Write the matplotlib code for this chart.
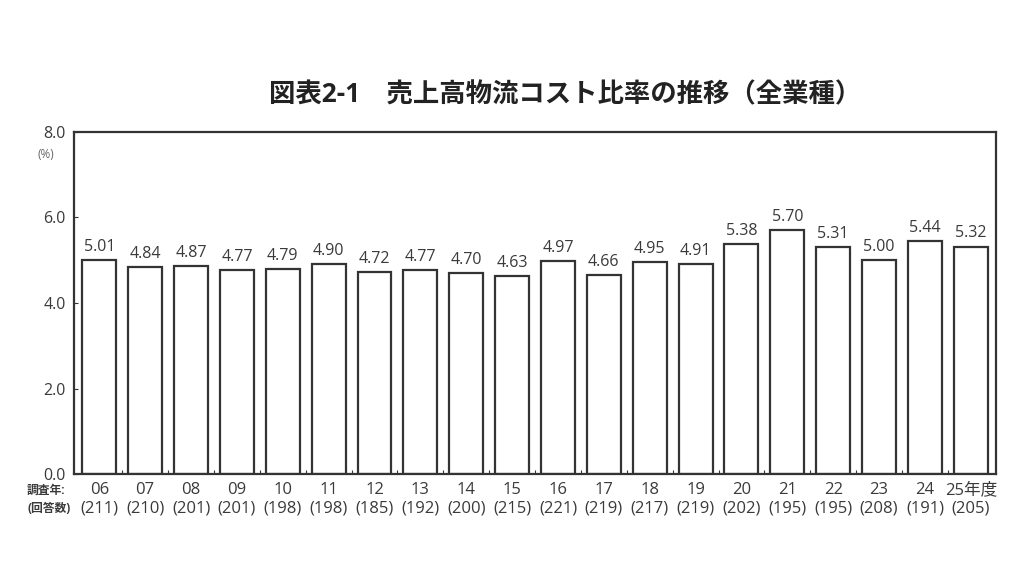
import matplotlib
matplotlib.use("Agg")
from matplotlib import pyplot as plt
from matplotlib.ticker import MultipleLocator

plt.rcParams['font.family'] = ['Open Sans', 'Noto Sans CJK JP', 'DejaVu Sans']

years = ['06', '07', '08', '09', '10', '11', '12', '13', '14', '15',
         '16', '17', '18', '19', '20', '21', '22', '23', '24', '25年度']
answers = [211, 210, 201, 201, 198, 198, 185, 192, 200, 215,
           221, 219, 217, 219, 202, 195, 195, 208, 191, 205]
ratios = [5.01, 4.84, 4.87, 4.77, 4.79, 4.90, 4.72, 4.77, 4.70, 4.63,
          4.97, 4.66, 4.95, 4.91, 5.38, 5.70, 5.31, 5.00, 5.44, 5.32]

text_col = '#3a3a3a'

fig = plt.figure(figsize=(10.24, 5.76), dpi=100)
ax = fig.add_axes([0.0723, 0.177, 0.9004, 0.594])

x = list(range(len(ratios)))
ax.bar(x, ratios, width=0.74, color='white', edgecolor='#333333', linewidth=1.6)

for xi, v in zip(x, ratios):
    ax.text(xi, v + 0.12, f'{v:.2f}', ha='center', va='bottom',
            fontsize=11.5, color=text_col)

ax.set_xlim(-0.55, len(ratios) - 0.45)
ax.set_ylim(0, 8)
ax.yaxis.set_major_locator(MultipleLocator(2))
ax.set_yticklabels([f'{t:.1f}' for t in ax.get_yticks()])
ax.tick_params(axis='y', direction='in', length=3, labelsize=11.5,
               labelcolor=text_col, color='#333333', pad=6)
ax.set_xticks([i + 0.5 for i in x[:-1]])
ax.set_xticklabels([])
ax.tick_params(axis='x', direction='in', length=3, color='#333333')
for s in ax.spines.values():
    s.set_color('#333333')
    s.set_linewidth(1.6)

# unit label under the top tick
ax.text(-0.03, 0.935, '(%)', transform=ax.transAxes, ha='center',
        va='center', fontsize=8.5, color='#666666')

trans = ax.get_xaxis_transform()
for xi, yr, n in zip(x, years, answers):
    ax.text(xi, -0.048, yr, transform=trans, ha='center', va='center',
            fontsize=12, color=text_col)
    ax.text(xi, -0.10, f'({n})', transform=trans, ha='center', va='center',
            fontsize=12, color=text_col)
ax.text(-0.75, -0.048, '調査年:', transform=trans, ha='right', va='center',
        fontsize=8.5, color=text_col, fontweight='bold')
ax.text(-0.62, -0.10, '(回答数)', transform=trans, ha='right', va='center',
        fontsize=8.5, color=text_col, fontweight='bold')

fig.text(0.552, 0.835, '図表2-1　売上高物流コスト比率の推移（全業種）',
         ha='center', va='center', fontsize=19, fontweight='bold',
         color='#222222')

fig.savefig('out.png', dpi=100, facecolor='white')
